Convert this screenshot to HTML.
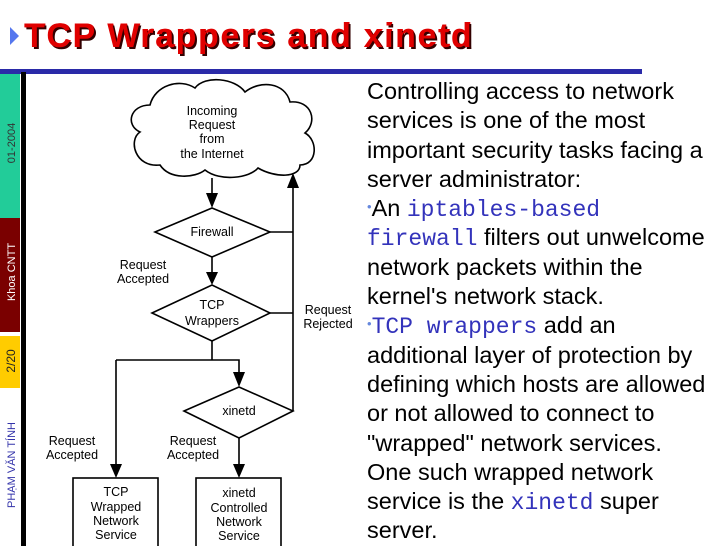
<!DOCTYPE html>
<html><head><meta charset="utf-8"><style>
html,body{margin:0;padding:0;background:#fff;}
body{width:728px;height:546px;position:relative;overflow:hidden;font-family:"Liberation Sans",sans-serif;}
.title{position:absolute;left:24px;top:17px;font-size:34px;font-weight:bold;color:#e00000;text-shadow:2px 2px 0 #300, 1px 0 0 #e00000;letter-spacing:1.6px;white-space:nowrap;}
.txt{position:absolute;left:367px;top:77px;width:361px;font-size:23.5px;color:#000;}
.txt p{margin:0;white-space:nowrap;height:29.3px;line-height:29.3px;}
.m{font-family:"Liberation Mono",monospace;color:#3333bb;font-size:23px;line-height:10px;}
.b{color:#6688dd;font-size:13px;vertical-align:5px;line-height:10px;}
</style></head><body>
<svg width="728" height="546" style="position:absolute;left:0;top:0" font-family="Liberation Sans, sans-serif">
<polygon points="10,27 19,36 10,45" fill="#5577ee"/>
<rect x="0" y="69" width="642" height="5" fill="#2a2aa8"/>
<rect x="0" y="74" width="20" height="144" fill="#22cc99"/>
<rect x="0" y="218" width="20" height="114" fill="#7a0000"/>
<rect x="0" y="336" width="20" height="52" fill="#ffcc00"/>
<rect x="21" y="72" width="5" height="474" fill="#000"/>
<g font-size="11" text-anchor="middle">
<text transform="translate(15,143) rotate(-90)" fill="#333">01-2004</text>
<text transform="translate(15,272) rotate(-90)" fill="#fff">Khoa CNTT</text>
<text transform="translate(15,361) rotate(-90)" fill="#222" font-size="12">2/20</text>
<text transform="translate(15,465) rotate(-90)" fill="#3333aa">PHẠM VĂN TÍNH</text>
</g>
<g stroke="#000" stroke-width="1.6" fill="none">
<path d="M150,105 C130,105 125,125 140,132 C128,140 135,168 160,165 C170,180 195,178 205,170 C220,182 250,178 258,168 C275,178 300,178 300,165 C318,165 318,140 305,133 C318,122 312,100 290,102 C285,82 260,80 245,92 C235,78 205,75 195,88 C180,78 155,85 150,105 Z"/>
<path d="M212,178 V196"/>
<polygon points="155,232 212,208 270,232 212,257"/>
<path d="M212,257 V274"/>
<polygon points="152,313 212,285 270,313 212,341"/>
<path d="M212,341 V360 M116,360 H239 V375"/>
<polygon points="184,411 239,387 293,411 239,438"/>
<path d="M270,232 H293 M270,313 H293 M293,411 V186"/>
<path d="M116,360 V466 M239,438 V466"/>
<rect x="73" y="478" width="85" height="72"/>
<rect x="196" y="478" width="85" height="72"/>
</g>
<g fill="#000">
<polygon points="206,193 218,193 212,208"/>
<polygon points="206,272 218,272 212,285"/>
<polygon points="233,372 245,372 239,387"/>
<polygon points="110,464 122,464 116,478"/>
<polygon points="233,464 245,464 239,478"/>
<polygon points="287,188 299,188 293,173"/>
</g>
<g font-size="12.5" text-anchor="middle" fill="#000">
<text x="212" y="115">Incoming</text><text x="212" y="129">Request</text><text x="212" y="143">from</text><text x="212" y="158">the Internet</text>
<text x="212" y="236">Firewall</text>
<text x="143" y="269">Request</text><text x="143" y="283">Accepted</text>
<text x="212" y="309">TCP</text><text x="212" y="325">Wrappers</text>
<text x="328" y="314">Request</text><text x="328" y="328">Rejected</text>
<text x="239" y="415">xinetd</text>
<text x="72" y="445">Request</text><text x="72" y="459">Accepted</text>
<text x="193" y="445">Request</text><text x="193" y="459">Accepted</text>
<text x="116" y="496">TCP</text><text x="116" y="511">Wrapped</text><text x="116" y="525">Network</text><text x="116" y="539">Service</text>
<text x="239" y="497">xinetd</text><text x="239" y="512">Controlled</text><text x="239" y="526">Network</text><text x="239" y="540">Service</text>
</g>
</svg>
<div class="title">TCP Wrappers and xinetd</div>
<div class="txt">
<p>Controlling access to network</p>
<p>services is one of the most</p>
<p>important security tasks facing a</p>
<p>server administrator:</p>
<p><span class="b">•</span>An <span class="m">iptables-based</span></p>
<p><span class="m">firewall</span> filters out unwelcome</p>
<p>network packets within the</p>
<p>kernel's network stack.</p>
<p><span class="b">•</span><span class="m">TCP wrappers</span> add an</p>
<p>additional layer of protection by</p>
<p>defining which hosts are allowed</p>
<p>or not allowed to connect to</p>
<p>"wrapped" network services.</p>
<p>One such wrapped network</p>
<p>service is the <span class="m">xinetd</span> super</p>
<p>server.</p>
</div>
</body></html>
